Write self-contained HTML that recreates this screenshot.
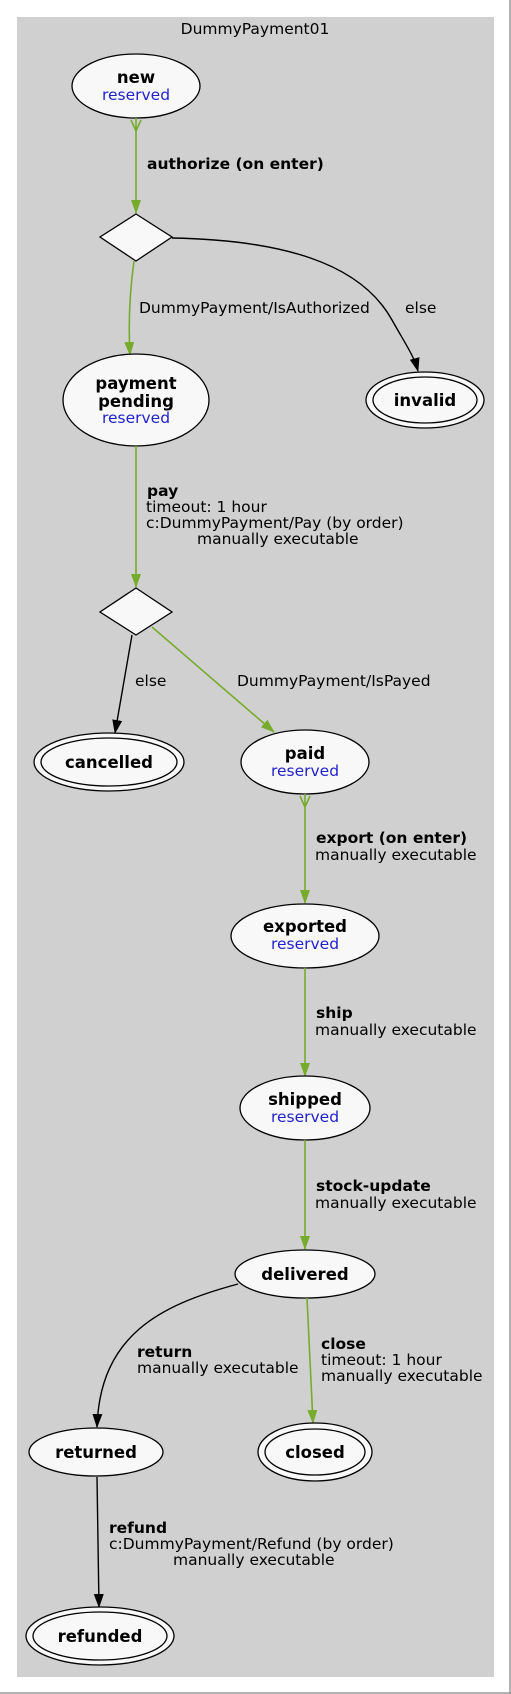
<!DOCTYPE html>
<html><head><meta charset="utf-8"><style>
html,body{margin:0;padding:0;background:#fff;}
svg{display:block;}
text{font-family:"DejaVu Sans","Liberation Sans",sans-serif;font-size:15.5px;fill:#000;}
.b{font-weight:bold;font-size:16.5px;}
.bl{font-weight:bold;font-size:15.5px;}
.r{fill:#2222cc;font-size:15.5px;}
.n{fill:#f8f8f8;stroke:#000;stroke-width:1.3;}
.g{stroke:#77ab2d;stroke-width:1.6;fill:none;}
.k{stroke:#000;stroke-width:1.4;fill:none;}
</style></head><body>
<svg width="511" height="1694" viewBox="0 0 511 1694" xmlns="http://www.w3.org/2000/svg">
<defs>
<marker id="ag" markerWidth="14" markerHeight="12" refX="13" refY="6" orient="auto" markerUnits="userSpaceOnUse"><path d="M0,1 L14,6 L0,11 z" fill="#77ab2d"/></marker>
<marker id="ak" markerWidth="14" markerHeight="12" refX="13" refY="6" orient="auto" markerUnits="userSpaceOnUse"><path d="M0,1 L14,6 L0,11 z" fill="#000"/></marker>
</defs>
<rect x="0" y="0" width="511" height="1694" fill="#fff"/>
<line x1="510" y1="0" x2="510" y2="1694" stroke="#999" stroke-width="1.5"/>
<line x1="0" y1="1693" x2="511" y2="1693" stroke="#999" stroke-width="1.5"/>
<rect x="17" y="17" width="477" height="1660" fill="#d0d0d0"/>
<text x="255" y="34" text-anchor="middle">DummyPayment01</text>

<ellipse class="n" cx="136" cy="86" rx="64" ry="32"/>
<text class="b" x="136" y="83" text-anchor="middle">new</text>
<text class="r" x="136" y="100" text-anchor="middle">reserved</text>
<path class="g" d="M136,118 L136,213" marker-end="url(#ag)"/>
<path d="M131,120 L136,131 L141,120" stroke="#77ab2d" stroke-width="1.6" fill="none"/>
<text class="bl" x="147" y="169">authorize (on enter)</text>

<polygon class="n" points="136,214 172,237 136,261 100,237"/>
<path class="g" d="M134,261 C130,290 128,320 130,355" marker-end="url(#ag)"/>
<text x="139" y="313">DummyPayment/IsAuthorized</text>
<path class="k" d="M172,238 C280,240 360,262 392,320 C406,345 414,356 418,371" marker-end="url(#ak)"/>
<text x="405" y="313">else</text>

<ellipse class="n" cx="425" cy="400" rx="59" ry="28"/>
<ellipse class="n" cx="425" cy="400" rx="52" ry="23"/>
<text class="b" x="425" y="406" text-anchor="middle">invalid</text>

<ellipse class="n" cx="136" cy="400" rx="73" ry="46"/>
<text class="b" x="136" y="389" text-anchor="middle">payment</text>
<text class="b" x="136" y="407" text-anchor="middle">pending</text>
<text class="r" x="136" y="423" text-anchor="middle">reserved</text>

<path class="g" d="M136,446 L136,587" marker-end="url(#ag)"/>
<text class="bl" x="147" y="496">pay</text>
<text x="146" y="512">timeout: 1 hour</text>
<text x="146" y="528">c:DummyPayment/Pay (by order)</text>
<text x="197" y="544">manually executable</text>

<polygon class="n" points="136,588 172,612 136,635 100,612"/>
<path class="k" d="M132,635 L115,733" marker-end="url(#ak)"/>
<text x="135" y="686">else</text>
<path class="g" d="M152,627 L274,732" marker-end="url(#ag)"/>
<text x="237" y="686">DummyPayment/IsPayed</text>

<ellipse class="n" cx="109" cy="762" rx="75" ry="29"/>
<ellipse class="n" cx="109" cy="762" rx="68" ry="24"/>
<text class="b" x="109" y="768" text-anchor="middle">cancelled</text>

<ellipse class="n" cx="305" cy="762" rx="64" ry="32"/>
<text class="b" x="305" y="759" text-anchor="middle">paid</text>
<text class="r" x="305" y="776" text-anchor="middle">reserved</text>

<path class="g" d="M305,794 L305,903" marker-end="url(#ag)"/>
<path d="M300,796 L305,807 L310,796" stroke="#77ab2d" stroke-width="1.6" fill="none"/>
<text class="bl" x="316" y="843">export (on enter)</text>
<text x="315" y="860">manually executable</text>

<ellipse class="n" cx="305" cy="936" rx="74" ry="32"/>
<text class="b" x="305" y="932" text-anchor="middle">exported</text>
<text class="r" x="305" y="949" text-anchor="middle">reserved</text>

<path class="g" d="M305,968 L305,1076" marker-end="url(#ag)"/>
<text class="bl" x="316" y="1018">ship</text>
<text x="315" y="1035">manually executable</text>

<ellipse class="n" cx="305" cy="1108" rx="65" ry="32"/>
<text class="b" x="305" y="1105" text-anchor="middle">shipped</text>
<text class="r" x="305" y="1122" text-anchor="middle">reserved</text>

<path class="g" d="M305,1140 L305,1249" marker-end="url(#ag)"/>
<text class="bl" x="316" y="1191">stock-update</text>
<text x="315" y="1208">manually executable</text>

<ellipse class="n" cx="305" cy="1274" rx="70" ry="24"/>
<text class="b" x="305" y="1280" text-anchor="middle">delivered</text>

<path class="k" d="M238,1284 C160,1305 100,1335 97,1427" marker-end="url(#ak)"/>
<text class="bl" x="137" y="1357">return</text>
<text x="137" y="1373">manually executable</text>

<path class="g" d="M307,1298 L313,1423" marker-end="url(#ag)"/>
<text class="bl" x="321" y="1349">close</text>
<text x="321" y="1365">timeout: 1 hour</text>
<text x="321" y="1381">manually executable</text>

<ellipse class="n" cx="96" cy="1452" rx="67" ry="24"/>
<text class="b" x="96" y="1458" text-anchor="middle">returned</text>

<ellipse class="n" cx="315" cy="1452" rx="57" ry="29"/>
<ellipse class="n" cx="315" cy="1452" rx="50" ry="23"/>
<text class="b" x="315" y="1458" text-anchor="middle">closed</text>

<path class="k" d="M97,1477 L99,1607" marker-end="url(#ak)"/>
<text class="bl" x="109" y="1533">refund</text>
<text x="109" y="1549">c:DummyPayment/Refund (by order)</text>
<text x="173" y="1565">manually executable</text>

<ellipse class="n" cx="100" cy="1636" rx="74" ry="29"/>
<ellipse class="n" cx="100" cy="1636" rx="67" ry="24"/>
<text class="b" x="100" y="1642" text-anchor="middle">refunded</text>
</svg>
</body></html>
